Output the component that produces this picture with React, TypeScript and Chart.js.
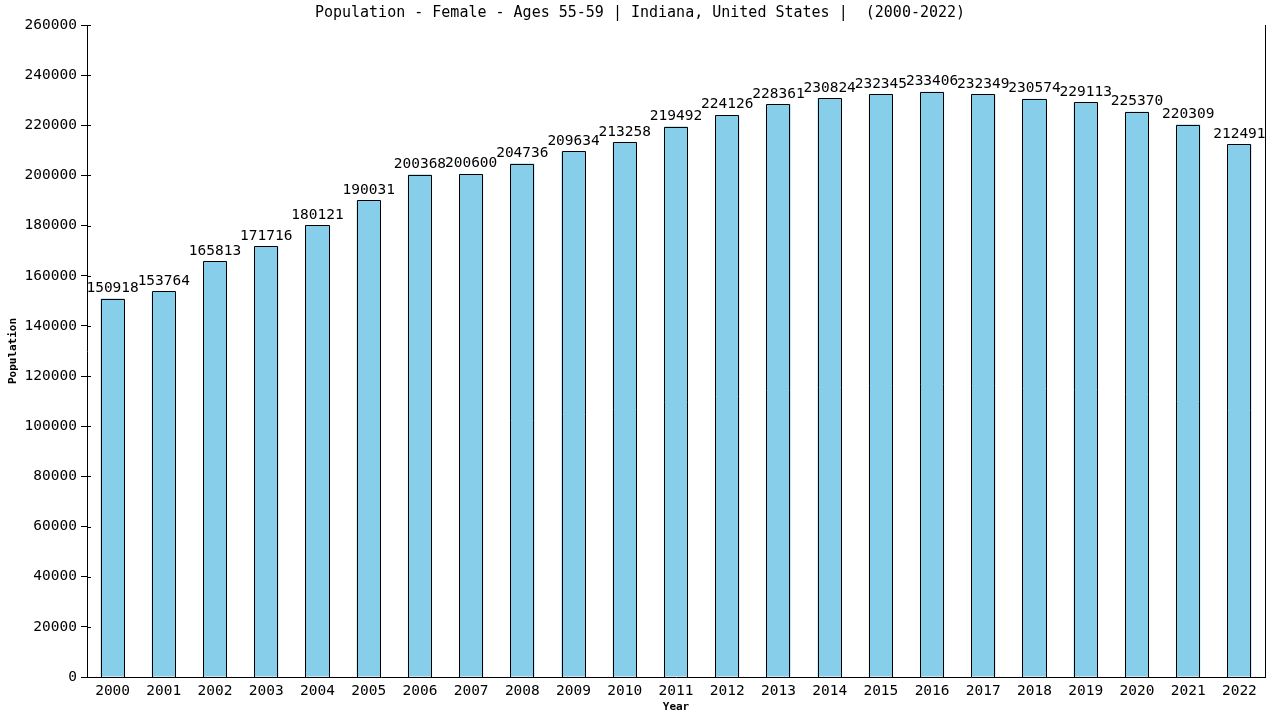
import React, { useEffect, useRef } from "react";
import { Chart, registerables } from "chart.js";

Chart.register(...registerables);

const years: string[] = [
  "2000", "2001", "2002", "2003", "2004", "2005", "2006", "2007", "2008", "2009", "2010", "2011",
  "2012", "2013", "2014", "2015", "2016", "2017", "2018", "2019", "2020", "2021", "2022",
];
const population: number[] = [
  150918, 153764, 165813, 171716, 180121, 190031, 200368, 200600, 204736, 209634, 213258, 219492,
  224126, 228361, 230824, 232345, 233406, 232349, 230574, 229113, 225370, 220309, 212491,
];
const titleText = "Population - Female - Ages 55-59 | Indiana, United States |  (2000-2022)";
const yMax = 260000;
const yStep = 20000;

const FONT = "'DejaVu Sans Mono', monospace";

const overlayPlugin = {
  id: "overlay",
  afterDatasetsDraw(chart: any) {
    const { ctx } = chart;
    ctx.save();
    ctx.strokeStyle = "#000";
    ctx.lineWidth = 1;
    const meta = chart.getDatasetMeta(0);
    meta.data.forEach((bar: any) => {
      const l = Math.round(bar.x - bar.width / 2);
      const r = Math.round(bar.x + bar.width / 2);
      const t = Math.round(bar.y);
      const b = Math.round(bar.base);
      ctx.beginPath();
      ctx.moveTo(l + 0.5, b);
      ctx.lineTo(l + 0.5, t + 0.5);
      ctx.lineTo(r - 0.5, t + 0.5);
      ctx.lineTo(r - 0.5, b);
      ctx.stroke();
    });
    ctx.restore();
  },
  afterDraw(chart: any) {
    const { ctx, chartArea } = chart;
    ctx.save();
    // title
    ctx.fillStyle = "#000";
    ctx.font = `15px ${FONT}`;
    ctx.textAlign = "center";
    ctx.textBaseline = "middle";
    ctx.fillText(titleText, 640, 13);
    // right border line
    ctx.strokeStyle = "#000";
    ctx.lineWidth = 1;
    ctx.beginPath();
    ctx.moveTo(Math.round(chartArea.right) + 0.5, chartArea.top);
    ctx.lineTo(Math.round(chartArea.right) + 0.5, chartArea.bottom);
    ctx.stroke();
    // small tick stubs inside the plot on the y axis
    const yScale = chart.scales.y;
    const left = Math.round(chartArea.left);
    yScale.ticks.forEach((_t: any, i: number) => {
      const py = Math.round(yScale.getPixelForTick(i)) + 0.5;
      ctx.beginPath();
      ctx.moveTo(left, py);
      ctx.lineTo(left + 4, py);
      ctx.stroke();
    });
    // bar value labels
    ctx.font = `14.5px ${FONT}`;
    ctx.textBaseline = "bottom";
    const meta = chart.getDatasetMeta(0);
    meta.data.forEach((bar: any, i: number) => {
      ctx.fillText(String(population[i]), bar.x, bar.y - 3);
    });
    ctx.restore();
  },
};

export default function App() {
  const ref = useRef<HTMLCanvasElement | null>(null);
  useEffect(() => {
    document.body.style.margin = "0";
    if (!ref.current) return;
    const chart = new Chart(ref.current, {
      type: "bar",
      data: {
        labels: years,
        datasets: [
          {
            data: population,
            backgroundColor: "#87CEEB",
            borderWidth: 0,
            barPercentage: 0.47,
            categoryPercentage: 1,
          },
        ],
      },
      options: {
        animation: false,
        responsive: false,
        devicePixelRatio: 1,
        layout: { padding: { top: 25, right: 15, left: 0, bottom: 0 } },
        plugins: {
          legend: { display: false },
          title: { display: false },
          tooltip: { enabled: false },
        },
        scales: {
          x: {
            grid: { display: true, drawOnChartArea: false, drawTicks: true, tickLength: 0, color: "#000" },
            border: { display: true, color: "#000", width: 1 },
            ticks: {
              color: "#000",
              font: { family: FONT, size: 14.5 },
              maxRotation: 0,
              autoSkip: false,
              padding: 6,
            },
            title: {
              display: true,
              text: "Year",
              color: "#000",
              font: { family: FONT, size: 11, weight: "bold" },
              padding: { top: 0, bottom: 6 },
            },
            afterFit(scale: any) {
              scale.height = 43;
            },
          },
          y: {
            min: 0,
            max: yMax,
            grid: { display: true, drawOnChartArea: false, drawTicks: true, tickLength: 6, color: "#000" },
            border: { display: true, color: "#000", width: 1 },
            ticks: {
              stepSize: yStep,
              color: "#000",
              font: { family: FONT, size: 14.5 },
              padding: 4,
              callback: (v: any) => String(v),
            },
            title: {
              display: true,
              text: "Population",
              color: "#000",
              font: { family: FONT, size: 11, weight: "bold" },
              padding: { top: 7, bottom: 0 },
            },
            afterFit(scale: any) {
              scale.width = 87;
            },
          },
        },
      },
      plugins: [overlayPlugin],
    });
    return () => chart.destroy();
  }, []);
  return (
    <div style={{ position: "fixed", left: 0, top: 0, width: 1280, height: 720, background: "#fff" }}>
      <canvas ref={ref} width={1280} height={720} />
    </div>
  );
}
